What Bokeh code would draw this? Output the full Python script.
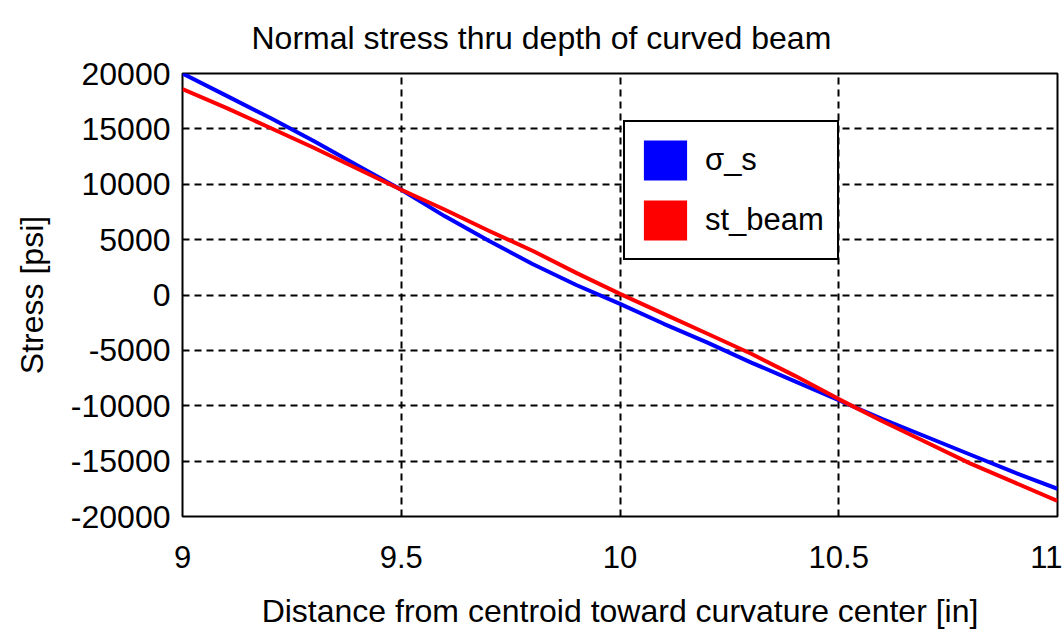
from bokeh.plotting import figure
from bokeh.models import ColumnDataSource, Legend, LegendItem, FixedTicker, Range1d
from bokeh.embed import file_html
from bokeh.resources import INLINE

# ---- data ----
x_in = [9.0, 9.1, 9.2, 9.3, 9.4, 9.5, 9.6, 9.7, 9.8, 9.9, 10.0,
        10.1, 10.2, 10.3, 10.4, 10.5, 10.6, 10.7, 10.8, 10.9, 11.0]
sigma_s = [20000, 18000, 16000, 13900, 11700, 9500, 7100, 4900, 2800, 900, -800,
           -2600, -4300, -6100, -7800, -9500, -11200, -12800, -14400, -16000, -17500]
st_beam = [18600, 16900, 15100, 13300, 11400, 9500, 7700, 5800, 4000, 2000, 100,
           -1700, -3500, -5300, -7300, -9400, -11400, -13300, -15200, -16900, -18600]
x_ticks = [9, 9.5, 10, 10.5, 11]
x_tick_labels = ["9", "9.5", "10", "10.5", "11"]
y_ticks = [20000, 15000, 10000, 5000, 0, -5000, -10000, -15000, -20000]
y_tick_labels = ["20000", "15000", "10000", "5000", "0", "-5000", "-10000", "-15000", "-20000"]
series_names = ["σ_s", "st_beam"]
series_colors = ["#0000ff", "#ff0000"]
title_text = "Normal stress thru depth of curved beam"
x_label_text = "Distance from centroid toward curvature center [in]"
y_label_text = "Stress [psi]"

FONT = "Liberation Sans"

p = figure(frame_width=875, frame_height=443, output_backend="svg",
           toolbar_location=None, x_range=Range1d(9, 11), y_range=Range1d(-20000, 20000),
           min_border_left=182, min_border_right=5, min_border_top=73, min_border_bottom=10,
           title=title_text)

p.title.text_font = FONT
p.title.text_font_size = "32px"
p.title.text_font_style = "normal"
p.title.text_color = "#000000"
p.title.align = "left"
p.title.offset = 69
p.title.standoff = 35

p.outline_line_color = "#000000"
p.outline_line_width = 2
p.outline_line_alpha = 1
p.background_fill_color = "#ffffff"
p.border_fill_color = "#ffffff"

for ax in (p.xaxis[0], p.yaxis[0]):
    ax.axis_line_color = None
    ax.major_tick_line_color = None
    ax.minor_tick_line_color = None
    ax.major_tick_out = 0
    ax.major_tick_in = 0
    ax.minor_tick_out = 0
    ax.major_label_text_font = FONT
    ax.major_label_text_font_size = "31px"
    ax.major_label_text_color = "#000000"
    ax.axis_label_text_font = FONT
    ax.axis_label_text_font_size = "32px"
    ax.axis_label_text_font_style = "normal"
    ax.axis_label_text_color = "#000000"

p.yaxis.major_label_text_font_size = "32px"
p.xaxis.ticker = FixedTicker(ticks=x_ticks)
p.yaxis.ticker = FixedTicker(ticks=y_ticks)
p.xaxis.major_label_overrides = dict(zip(x_ticks, x_tick_labels))
p.yaxis.major_label_overrides = dict(zip(y_ticks, y_tick_labels))
p.xaxis.axis_label = x_label_text
p.yaxis.axis_label = y_label_text
p.xaxis.major_label_standoff = 29
p.yaxis.major_label_standoff = 12
p.xaxis.axis_label_standoff = 22
p.yaxis.axis_label_standoff = 18

for g in (p.xgrid[0], p.ygrid[0]):
    g.grid_line_color = "#000000"
    g.grid_line_dash = "7 5"
    g.grid_line_width = 2

src = ColumnDataSource(dict(x=x_in, s=sigma_s, b=st_beam))
p.line("x", "s", source=src, line_color=series_colors[0], line_width=4)
p.line("x", "b", source=src, line_color=series_colors[1], line_width=4)

# legend swatches: zero-area quads (invisible in the plot, filled squares in the legend)
sw_src = ColumnDataSource(dict(x=x_in[:1], y=sigma_s[:1]))
sw0 = p.quad(left="x", right="x", top="y", bottom="y", source=sw_src,
             fill_color=series_colors[0], line_color=None)
sw1 = p.quad(left="x", right="x", top="y", bottom="y", source=sw_src,
             fill_color=series_colors[1], line_color=None)

legend = Legend(items=[LegendItem(label=series_names[0], renderers=[sw0]),
                       LegendItem(label=series_names[1], renderers=[sw1])],
                location=(441, 256), orientation="vertical")
legend.glyph_width = 54
legend.glyph_height = 50
legend.label_height = 50
legend.spacing = 10
legend.padding = 13
legend.margin = 0
legend.label_standoff = 13
legend.label_text_font = FONT
legend.label_text_font_size = "31px"
legend.label_text_color = "#000000"
legend.border_line_color = "#000000"
legend.border_line_alpha = 1
legend.border_line_width = 2
legend.background_fill_color = "#ffffff"
legend.background_fill_alpha = 1
p.add_layout(legend, "center")

open("out.html", "w").write(file_html(p, INLINE))
